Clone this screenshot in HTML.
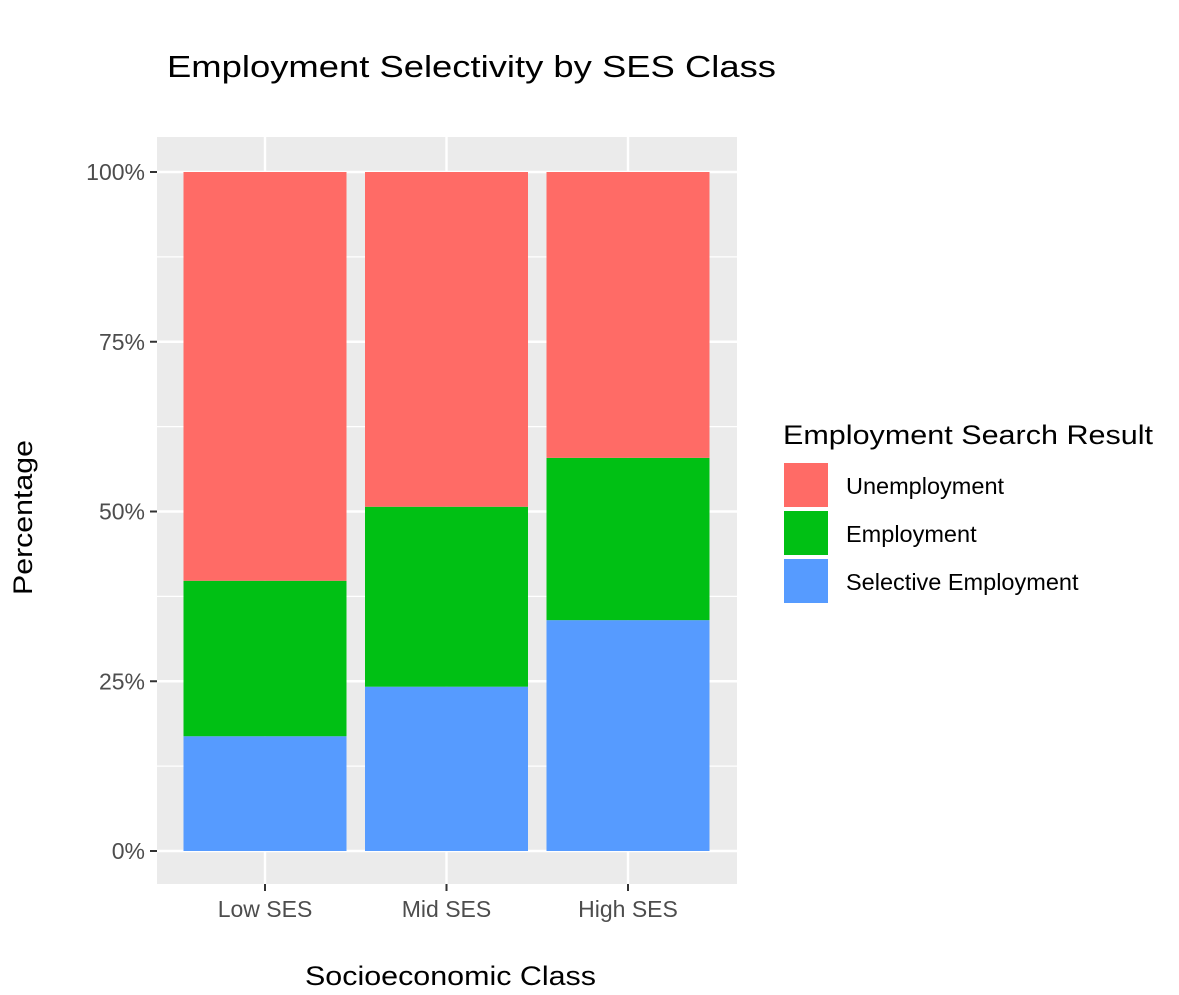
<!DOCTYPE html>
<html><head><meta charset="utf-8"><style>
body{margin:0;background:#fff;width:1179px;height:990px;overflow:hidden;font-family:"Liberation Sans",Arial,sans-serif}
</style></head><body>
<svg width="1179" height="990" xmlns="http://www.w3.org/2000/svg">
<text x="167" y="77" font-size="31" textLength="609" lengthAdjust="spacingAndGlyphs" fill="#000">Employment Selectivity by SES Class</text>
<rect x="157" y="137" width="580" height="747" fill="#ebebeb"/>
<g id="grid"></g>
<g id="bars"></g>
<g id="axes"></g>
<text x="305" y="985" font-size="27" textLength="291" lengthAdjust="spacingAndGlyphs" fill="#000">Socioeconomic Class</text>
<text transform="translate(32,595) rotate(-90)" font-size="27" textLength="155" lengthAdjust="spacingAndGlyphs" fill="#000">Percentage</text>
<text x="783" y="444" font-size="27" textLength="370" lengthAdjust="spacingAndGlyphs" fill="#000">Employment Search Result</text>
<g id="legend"></g>
</svg>
<script>
const categories=["Low SES","Mid SES","High SES"];
const selective=[16.9,24.2,34.0];
const employment=[22.9,26.5,23.9];
const unemployment=[60.2,49.3,42.1];
const yTicks=[0,25,50,75,100];
const yTickLabels=["0%","25%","50%","75%","100%"];
const seriesNames=["Unemployment","Employment","Selective Employment"];
const colors={"Unemployment":"#ff6b66","Employment":"#00c014","Selective Employment":"#569bff"};
const NS="http://www.w3.org/2000/svg";
const y=v=>851-v*6.79;
const x=i=>265+i*181.5;
const bw=163;
function mk(t,a,p){const e=document.createElementNS(NS,t);for(const k in a)e.setAttribute(k,a[k]);p.appendChild(e);return e;}
const grid=document.getElementById('grid'),bars=document.getElementById('bars'),axes=document.getElementById('axes'),leg=document.getElementById('legend');
for(let i=0;i<yTicks.length-1;i++){const m=(yTicks[i]+yTicks[i+1])/2;
 const l=mk('line',{x1:157,x2:737,y1:y(m),y2:y(m),stroke:'#fff','stroke-width':1.2},grid);
 
 }
yTicks.forEach((t,i)=>{
 const l=mk('line',{x1:157,x2:737,y1:y(t),y2:y(t),stroke:'#fff','stroke-width':2.4},grid);
 
 
 const tk=mk('line',{x1:150,x2:157,y1:y(t),y2:y(t),stroke:'#333','stroke-width':2},axes);
 
 
 const tx=mk('text',{x:145,y:y(t)+8,'font-size':23,'text-anchor':'end',fill:'#4d4d4d'},axes);
 tx.textContent=yTickLabels[i];
 
 
});
categories.forEach((c,i)=>{
 const l=mk('line',{x1:x(i),x2:x(i),y1:137,y2:884,stroke:'#fff','stroke-width':2.4},grid);
 
 
 const tk=mk('line',{x1:x(i),x2:x(i),y1:884,y2:891,stroke:'#333','stroke-width':2},axes);
 
 
 const tx=mk('text',{x:x(i),y:917,'font-size':23,'text-anchor':'middle',fill:'#4d4d4d'},axes);
 tx.textContent=c;
 
 
 const segs=[[selective[i],"Selective Employment"],[employment[i],"Employment"],[unemployment[i],"Unemployment"]];
 let cum=0;
 segs.forEach(([v,n])=>{
  const r=mk('rect',{x:x(i)-bw/2,y:y(cum+v),width:bw,height:y(cum)-y(cum+v),fill:colors[n]},bars);
  
  
  cum+=v;
 });
});
seriesNames.forEach((n,i)=>{
 const yy=463+i*48;
 const r=mk('rect',{x:784,y:yy,width:44,height:44,fill:colors[n]},leg);
 
 
 const t=mk('text',{x:846,y:yy+31,'font-size':23.5,fill:'#000'},leg);
 t.textContent=n;
 
 
});
</script>
</body></html>
